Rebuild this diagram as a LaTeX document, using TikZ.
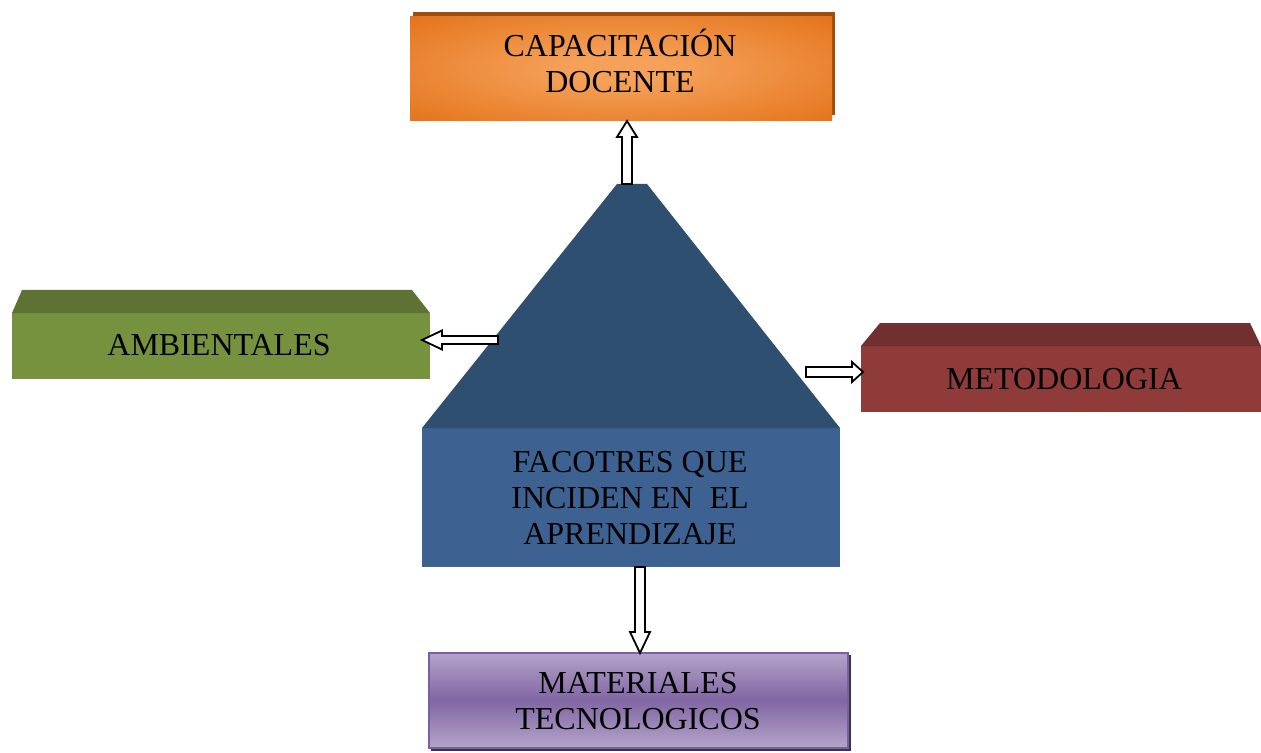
\documentclass[tikz,border=0pt]{standalone}
\usepackage{fontspec}
\setmainfont{Liberation Serif}
\usetikzlibrary{calc}
\definecolor{orlight}{HTML}{F5A15A}
\definecolor{ordark}{HTML}{E06A0E}
\definecolor{orshadow}{HTML}{A04D0C}
\definecolor{grtop}{HTML}{5E7233}
\definecolor{grfront}{HTML}{77923F}
\definecolor{rdtop}{HTML}{722F2F}
\definecolor{rdfront}{HTML}{8E3B3A}
\definecolor{bltop}{HTML}{2F4F71}
\definecolor{blfront}{HTML}{3D6291}
\definecolor{pulight}{HTML}{B4A4C9}
\definecolor{pumid}{HTML}{8166A3}
\definecolor{puedge}{HTML}{7C5F9E}
\definecolor{pushadow}{HTML}{3E3050}
\pgfdeclareradialshading{orrad}{\pgfpoint{0bp}{0bp}}{color(0bp)=(orlight); color(6bp)=(orlight); color(42bp)=(ordark); color(50bp)=(ordark)}
\tikzset{
  lbl/.style={font=\fontsize{16pt}{18pt}\selectfont, align=center, inner sep=0pt, text=black},
  face/.style={draw=none, inner sep=0pt, outer sep=0pt},
  blk/.style={draw=black, fill=white, line width=0.9pt, line join=miter},
}
\newcommand\blockarrow[5]{%
  \draw[blk] ($(#1)!#3!90:(#2)$)
   -- ($(#2)!#5!(#1)!#3!-90:(#1)$)
   -- ($(#2)!#5!(#1)!#4!-90:(#1)$)
   -- (#2)
   -- ($(#2)!#5!(#1)!#4!90:(#1)$)
   -- ($(#2)!#5!(#1)!#3!90:(#1)$)
   -- ($(#1)!#3!-90:(#2)$) -- cycle;}
\begin{document}
\begin{tikzpicture}[x=0.5pt,y=-0.5pt]
\useasboundingbox (0,0) rectangle (1261,753);
% capacitacion
\fill[orshadow] (413,12) rectangle (835,115);
\node[face, shading=orrad, minimum width=211pt, minimum height=52pt] (capbox) at (621,69) {};
\node[lbl] (captext) at (620,61) {CAPACITACIÓN\\DOCENTE};
% ambientales
\node[face, fill=grfront, minimum width=209pt, minimum height=33pt] (ambbox) at (221,346) {};
\fill[grtop] (ambbox.north west) -- ++(10,-23) -- (412,290) -- (ambbox.north east) -- cycle;
\node[lbl] (ambtext) at (219,345) {AMBIENTALES};
% metodologia
\node[face, fill=rdfront, minimum width=200pt, minimum height=33pt] (metbox) at (1061,379) {};
\fill[rdtop] (metbox.north west) -- ++(19,-23) -- (1250,323) -- (metbox.north east) -- cycle;
\node[lbl] (mettext) at (1064,379) {METODOLOGIA};
% pyramid
\node[face, fill=blfront, minimum width=209pt, minimum height=69.5pt] (pyrbox) at (631,497.5) {};
\fill[bltop] (pyrbox.north west) -- (617,184) -- (647,184) -- (pyrbox.north east) -- cycle;
\node[lbl] (pyrtext) at (630,498) {FACOTRES QUE\\INCIDEN EN~~EL\\APRENDIZAJE};
% materiales
\fill[pushadow] (431,655) rectangle (851,751);
\node[face, draw=puedge, line width=1pt, top color=pulight, bottom color=pulight, middle color=pumid, minimum width=419pt/2, minimum height=95pt/2] (matbox) at (638,700) {};
\node[lbl] (mattext) at (638,701) {MATERIALES\\TECNOLOGICOS};
% arrows
\coordinate (upTail) at (627,184);
\coordinate (upTip) at (627,121);
\coordinate (lfTail) at (498,340);
\coordinate (lfTip) at (422,340);
\coordinate (rtTail) at (806,372);
\coordinate (rtTip) at (863,372);
\coordinate (dnTail) at (640,567);
\coordinate (dnTip) at (640,653);
\blockarrow{upTail}{upTip}{2.5pt}{5pt}{8pt}
\blockarrow{lfTail}{lfTip}{2pt}{4.75pt}{10pt}
\blockarrow{rtTail}{rtTip}{2.5pt}{5pt}{5.5pt}
\blockarrow{dnTail}{dnTip}{2.5pt}{5pt}{10.5pt}
\end{tikzpicture}
\end{document}
